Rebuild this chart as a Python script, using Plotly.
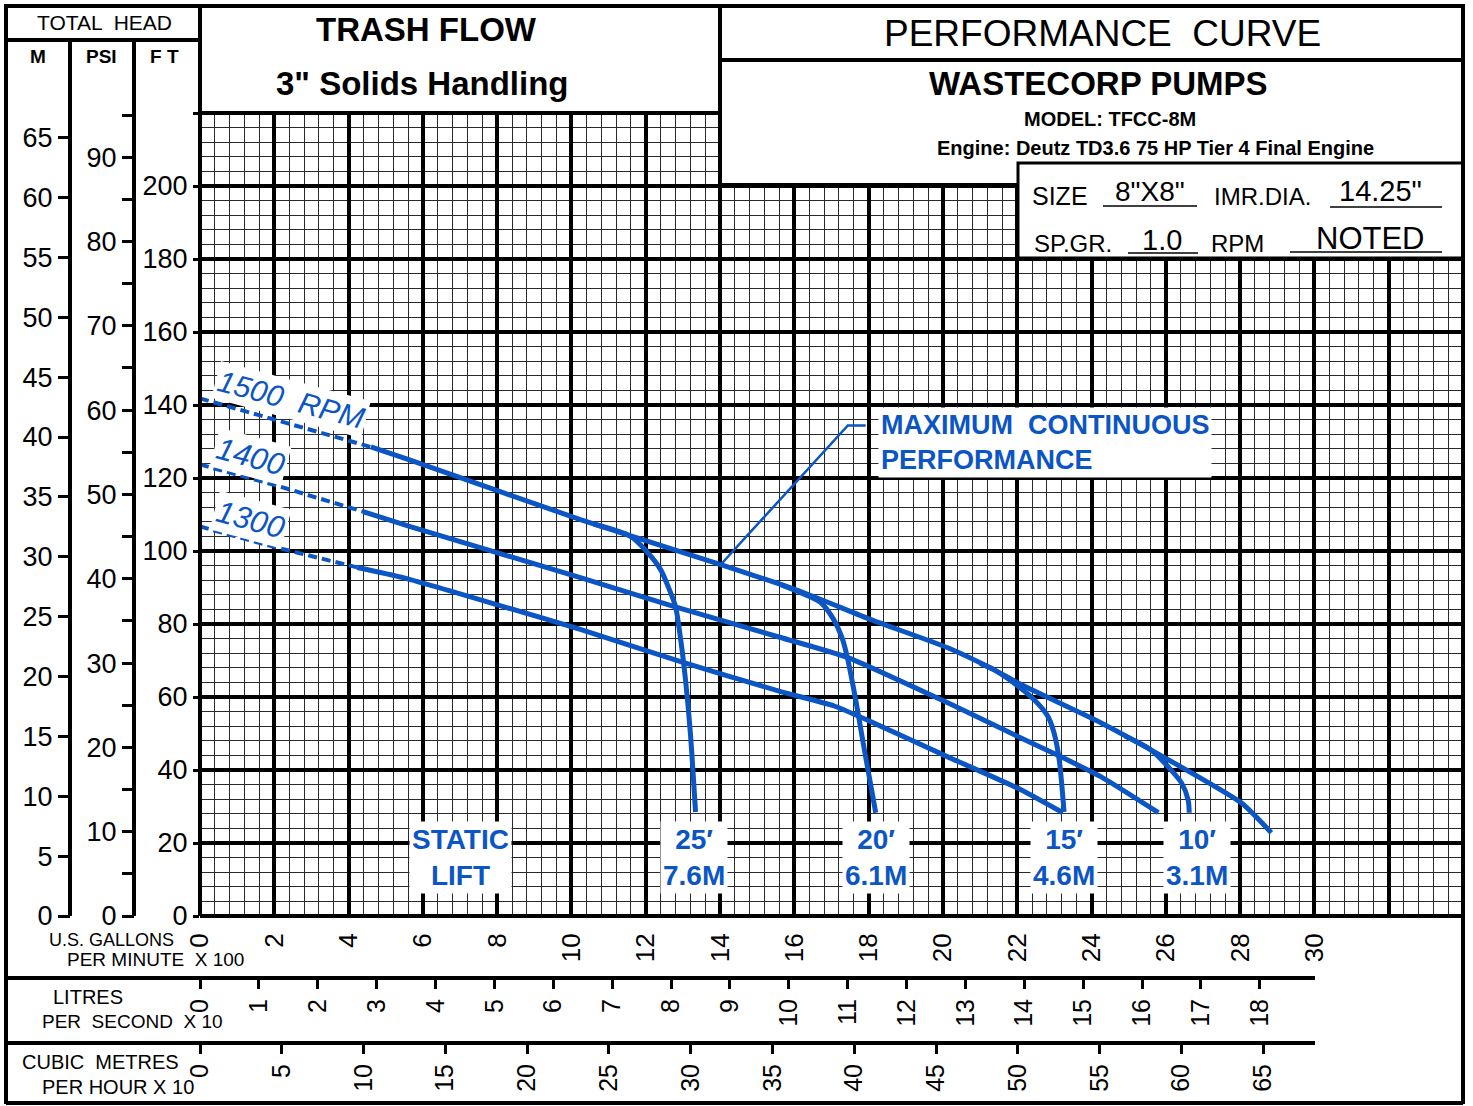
import plotly.graph_objects as go

W, H = 1473, 1106
def px(x): return x / W
def py(y): return 1 - y / H

BLUE = "#0b55c4"
FONT = "Liberation Sans"

# ---------------- data (flow in US GPM x 100, head in ft) ----------------
gpm_ticks = [0, 2, 4, 6, 8, 10, 12, 14, 16, 18, 20, 22, 24, 26, 28, 30, 32, 34]
gpm_text = ["0", "2", "4", "6", "8", "10", "12", "14", "16", "18", "20", "22", "24", "26", "28", "30", "", ""]
ft_ticks = [0, 20, 40, 60, 80, 100, 120, 140, 160, 180, 200, 220]
ft_text = ["0", "20", "40", "60", "80", "100", "120", "140", "160", "180", "200", ""]
m_ticks = [0, 5, 10, 15, 20, 25, 30, 35, 40, 45, 50, 55, 60, 65]
psi_ticks = [0, 5, 10, 15, 20, 25, 30, 35, 40, 45, 50, 55, 60, 65, 70, 75, 80, 85, 90, 95]
psi_text = ["0", "", "10", "", "20", "", "30", "", "40", "", "50", "", "60", "", "70", "", "80", "", "90", ""]
lps_ticks = [0, 1, 2, 3, 4, 5, 6, 7, 8, 9, 10, 11, 12, 13, 14, 15, 16, 17, 18]
m3h_ticks = [0, 5, 10, 15, 20, 25, 30, 35, 40, 45, 50, 55, 60, 65]

FT_PER_M = 3.2808
FT_PER_PSI = 2.31
GPM100_PER_LPS10 = 1.585
GPM100_PER_M3H10 = 0.4403

rpm1500_dash_x = [0, 1.97, 4.04, 4.6]
rpm1500_dash_ft = [141.8, 136.0, 130.0, 128.5]
rpm1500_x = [4.6, 5.66, 10.24, 14.02, 16.17, 18.06, 20.13, 21.37, 22.1, 24.26, 25.6, 28.03, 28.84]
rpm1500_ft = [128.5, 124.9, 108.6, 96.3, 88.9, 81.2, 73.5, 67.5, 63.4, 52.9, 45.5, 31.0, 22.8]

rpm1400_dash_x = [0, 1.97, 4.39]
rpm1400_dash_ft = [123.7, 118.2, 110.8]
rpm1400_x = [4.39, 5.66, 10.24, 12.75, 15.63, 17.44, 20.13, 22.1, 23.18, 24.26, 25.8]
rpm1400_ft = [110.8, 106.7, 92.7, 84.8, 76.3, 70.8, 58.4, 48.8, 43.6, 38.1, 28.3]

rpm1300_dash_x = [0, 1.97, 4.23]
rpm1300_dash_ft = [106.7, 101.2, 95.5]
rpm1300_x = [4.23, 5.47, 10.24, 12.94, 15.63, 17.06, 17.98, 20.13, 22.1, 23.23]
rpm1300_ft = [95.5, 92.7, 78.5, 69.7, 61.5, 57.6, 53.6, 43.6, 34.6, 28.3]

lift25_x = [10.6, 11.59, 12.05, 12.4, 12.6, 12.8, 12.94, 13.07, 13.2, 13.34]
lift25_ft = [107.4, 104.0, 99.6, 94.9, 90.3, 84.8, 75.7, 64.7, 50.2, 28.5]
lift20_x = [15.63, 16.17, 16.71, 17.06, 17.3, 17.44, 17.65, 17.87, 18.19]
lift20_ft = [90.8, 88.6, 85.9, 81.2, 75.7, 70.2, 59.3, 46.4, 28.3]
lift15_x = [21.0, 21.37, 21.9, 22.45, 22.83, 22.99, 23.13, 23.26]
lift15_ft = [69.2, 67.5, 63.9, 59.3, 54.6, 50.2, 42.8, 28.5]
lift10_x = [24.9, 25.6, 26.06, 26.42, 26.6, 26.63]
lift10_ft = [49.3, 45.5, 40.9, 36.5, 31.8, 28.3]

leader_x = [14.02, 17.44, 17.92]
leader_ft = [96.3, 134.4, 134.4]

lift_labels = ["25\u2032<br>7.6M", "20\u2032<br>6.1M", "15\u2032<br>4.6M", "10\u2032<br>3.1M"]
lift_label_x = [13.3, 18.2, 23.25, 26.85]

# ---------------- figure ----------------
fig = go.Figure()

def add_line(x, y, width, dash="solid", shape="linear", smoothing=0.8):
    fig.add_trace(go.Scatter(x=x, y=y, mode="lines", showlegend=False, hoverinfo="skip",
                             line=dict(color=BLUE, width=width, dash=dash, shape=shape, smoothing=smoothing)))

for xs, ys in [(rpm1500_dash_x, rpm1500_dash_ft), (rpm1400_dash_x, rpm1400_dash_ft), (rpm1300_dash_x, rpm1300_dash_ft)]:
    add_line(xs, ys, 4, dash="9px,5px")
for xs, ys in [(rpm1500_x, rpm1500_ft), (rpm1400_x, rpm1400_ft), (rpm1300_x, rpm1300_ft)]:
    add_line(xs, ys, 5, shape="spline", smoothing=0.5)
for xs, ys in [(lift25_x, lift25_ft), (lift20_x, lift20_ft), (lift15_x, lift15_ft), (lift10_x, lift10_ft)]:
    add_line(xs, ys, 5, shape="spline")
add_line(leader_x, leader_ft, 2.5)

# empty traces so that the secondary unit scales are drawn
for xa, ya in [("x", "y2"), ("x", "y3"), ("x2", "y"), ("x3", "y")]:
    fig.add_trace(go.Scatter(x=[None], y=[None], xaxis=xa, yaxis=ya, mode="markers",
                             showlegend=False, hoverinfo="skip"))

tickfont = dict(family=FONT, size=27, color="black")
fig.update_layout(
    width=W, height=H, margin=dict(l=0, r=0, t=0, b=0),
    paper_bgcolor="white", plot_bgcolor="white",
    xaxis=dict(domain=[px(200), px(1463)], range=[0, 34], tickmode="array", tickvals=gpm_ticks,
               ticktext=gpm_text, tickangle=-90, ticks="outside", ticklen=6, tickcolor="white",
               showgrid=True, gridcolor="black", gridwidth=3.5, zeroline=False, showline=False,
               minor=dict(tick0=0, dtick=0.4, showgrid=True, gridcolor="#2a2a2a", gridwidth=1.3),
               tickfont=dict(family=FONT, size=26, color="black"), automargin=False, fixedrange=True),
    yaxis=dict(domain=[py(916), py(113)], range=[0, 220], tickmode="array", tickvals=ft_ticks,
               ticktext=ft_text, ticks="outside", ticklen=6, tickwidth=3, tickcolor="black",
               showgrid=True, gridcolor="black", gridwidth=3.5, zeroline=False, showline=False,
               minor=dict(tick0=0, dtick=4, showgrid=True, gridcolor="#2a2a2a", gridwidth=1.3),
               tickfont=tickfont, automargin=False, fixedrange=True),
    yaxis2=dict(overlaying="y", anchor="free", position=px(70), side="left",
                range=[0, 220 / FT_PER_M], tickmode="array", tickvals=m_ticks,
                ticks="outside", ticklen=12, tickwidth=3, tickcolor="black",
                showgrid=False, zeroline=False, showline=False, tickfont=tickfont, automargin=False,
                fixedrange=True),
    yaxis3=dict(overlaying="y", anchor="free", position=px(134), side="left",
                range=[0, 220 / FT_PER_PSI], tickmode="array", tickvals=psi_ticks, ticktext=psi_text,
                ticks="outside", ticklen=12, tickwidth=3, tickcolor="black",
                showgrid=False, zeroline=False, showline=False, tickfont=tickfont, automargin=False,
                fixedrange=True),
    xaxis2=dict(overlaying="x", anchor="free", position=py(978), side="bottom",
                range=[0, 34 / GPM100_PER_LPS10], tickmode="array", tickvals=lps_ticks, tickangle=-90,
                ticks="outside", ticklen=10, tickwidth=3, tickcolor="black",
                showgrid=False, zeroline=False, showline=False,
                tickfont=dict(family=FONT, size=25, color="black"), automargin=False, fixedrange=True),
    xaxis3=dict(overlaying="x", anchor="free", position=py(1043), side="bottom",
                range=[0, 34 / GPM100_PER_M3H10], tickmode="array", tickvals=m3h_ticks, tickangle=-90,
                ticks="outside", ticklen=10, tickwidth=3, tickcolor="black",
                showgrid=False, zeroline=False, showline=False,
                tickfont=dict(family=FONT, size=25, color="black"), automargin=False, fixedrange=True),
)

shapes = []
def line(x0, y0, x1, y1, w=4):
    shapes.append(dict(type="line", xref="paper", yref="paper", x0=px(x0), y0=py(y0), x1=px(x1), y1=py(y1),
                       line=dict(color="black", width=w), layer="above"))
def box(x0, y0, x1, y1, w=4):
    shapes.append(dict(type="rect", xref="paper", yref="paper", x0=px(x0), y0=py(y0), x1=px(x1), y1=py(y1),
                       line=dict(color="black", width=w), fillcolor="white", layer="above"))

box(200, 6, 720, 113)
box(720, 6, 1463, 185)
box(1018, 163, 1463, 258, 3)
line(720, 60, 1463, 60)
line(6, 6, 200, 6)
line(6, 40, 200, 40)
line(6, 4, 6, 1104)
line(6, 1103, 1463, 1103)
line(1463, 4, 1463, 1104)
line(70, 40, 70, 916)
line(134, 40, 134, 916)
line(200, 6, 200, 916)
line(200, 916, 1463, 916)
line(6, 978, 1315, 978)
line(6, 1043, 1315, 1043)
# underlines in size box
line(1103, 206, 1197, 206, 1.5)
line(1330, 207, 1442, 207, 1.5)
line(1128, 253, 1198, 253, 1.5)
line(1290, 252, 1442, 252, 1.5)
fig.update_layout(shapes=shapes)

ann = []
def text(x, y, t, size, bold=False, color="black", xanchor="center"):
    ann.append(dict(xref="paper", yref="paper", x=px(x), y=py(y), text=("<b>%s</b>" % t) if bold else t,
                    showarrow=False, xanchor=xanchor, yanchor="middle",
                    font=dict(family=FONT, size=size, color=color)))

text(105, 22, "TOTAL  HEAD", 21)
text(38, 57, "M", 19, bold=True)
text(101, 56, "PSI", 19, bold=True)
text(164, 57, "F T", 19, bold=True)
text(427, 29, "TRASH FLOW", 33, bold=True)
text(422, 84, "3\" Solids Handling", 33, bold=True)
text(1102, 33, "PERFORMANCE  CURVE", 37)
text(1098, 83, "WASTECORP PUMPS", 33, bold=True)
text(1110, 119, "MODEL: TFCC-8M", 20, bold=True)
text(1155, 148, "Engine: Deutz TD3.6 75 HP Tier 4 Final Engine", 20, bold=True)
text(1060, 196, "SIZE", 25)
text(1150, 191, "8\"X8\"", 28)
text(1262, 197, "IMR.DIA.", 24)
text(1380, 191, "14.25\"", 29)
text(1073, 243, "SP.GR.", 24)
text(1162, 240, "1.0", 29)
text(1237, 243, "RPM", 24)
text(1370, 239, "NOTED", 31)
text(112, 940, "U.S. GALLONS", 18)
text(155, 959, "PER MINUTE  X 100", 19)
text(88, 997, "LITRES", 20)
text(132, 1021, "PER  SECOND  X 10", 19)
text(100, 1062, "CUBIC  METRES", 20)
text(118, 1087, "PER HOUR X 10", 20)

# blue labels (data coords)
def dlabel(x, y, t, size, angle=0, italic=False, bold=False):
    if italic:
        t = "<i>%s</i>" % t
    if bold:
        t = "<b>%s</b>" % t
    ann.append(dict(xref="x", yref="y", x=x, y=y, text=t,
                    showarrow=False, textangle=angle, bgcolor="white", borderpad=2,
                    font=dict(family=FONT, size=size, color=BLUE)))

dlabel(2.45, 141.5, "1500  RPM", 30, angle=15, italic=True)
dlabel(1.35, 125.8, "1400", 31, angle=15, italic=True)
dlabel(1.35, 108.6, "1300", 31, angle=15, italic=True)
dlabel(7.0, 16.0, "STATIC<br>LIFT", 28, bold=True)
for lx, lt in zip(lift_label_x, lift_labels):
    dlabel(lx, 16.0, lt, 28, bold=True)
ann.append(dict(xref="x", yref="y", x=18.25, y=129.6, text="<b>MAXIMUM  CONTINUOUS<br>PERFORMANCE</b>",
                showarrow=False, xanchor="left", align="left", bgcolor="white", borderpad=2,
                font=dict(family=FONT, size=27, color=BLUE)))
fig.update_layout(annotations=ann)

fig.write_html("out.html", config={"displayModeBar": False},
               post_script="document.body.style.margin='0';")
